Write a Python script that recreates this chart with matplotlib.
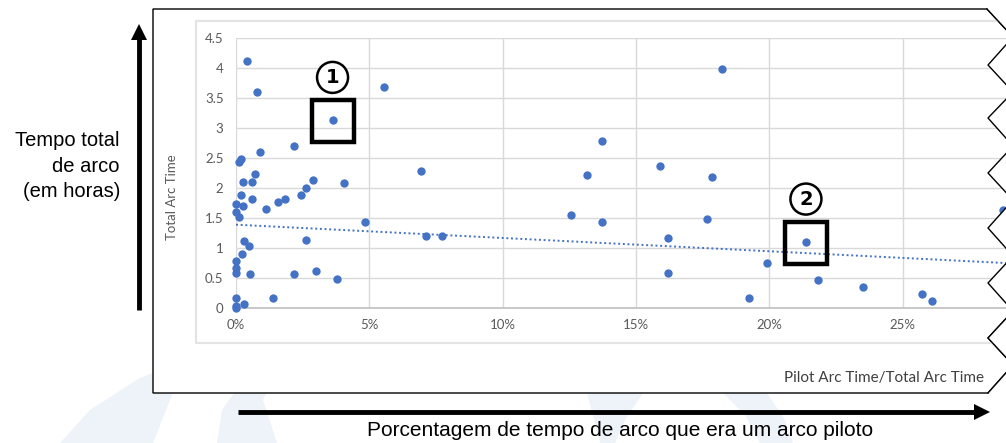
import numpy as np
import matplotlib
matplotlib.use("Agg")
import matplotlib.pyplot as plt
from matplotlib.patches import Polygon, Rectangle, Circle
from matplotlib.ticker import FuncFormatter

# dados (percentagem de arco piloto, tempo total em horas)
pilot_share = [0.40, 0.78, 3.62, 5.56, 2.18, 0.89, 0.18, 0.10, 0.70, 0.25,
               0.59, 2.89, 4.04, 6.94, 2.62, 0.18, 2.44, 0.59, 1.83, 1.59,
               0.00, 0.26, 1.11, 0.00, 0.11, 4.85, 7.11, 7.71, 12.57, 13.17,
               13.72, 13.72, 0.30, 0.47, 2.62, 0.21, 0.00, 0.00, 0.00, 0.51,
               2.18, 3.00, 3.79, 1.37, 0.00, 0.30, 0.00, 0.00, 15.91, 17.85,
               17.66, 18.22, 16.21, 16.21, 19.90, 21.37, 21.81, 19.22, 23.52, 25.71,
               26.08, 28.77]
arc_time = [4.12, 3.60, 3.13, 3.69, 2.70, 2.61, 2.49, 2.44, 2.24, 2.11,
            2.11, 2.14, 2.09, 2.29, 2.01, 1.89, 1.89, 1.82, 1.82, 1.77,
            1.73, 1.71, 1.66, 1.60, 1.52, 1.43, 1.20, 1.20, 1.56, 2.22,
            2.78, 1.44, 1.12, 1.03, 1.13, 0.90, 0.79, 0.67, 0.58, 0.57,
            0.57, 0.62, 0.49, 0.16, 0.16, 0.06, 0.04, 0.00, 2.37, 2.19,
            1.49, 3.99, 1.16, 0.58, 0.75, 1.10, 0.47, 0.16, 0.35, 0.24,
            0.12, 1.63]
# linha de tendencia do Excel: valor em 0% e em 28.9%
trend_x = [0.0, 28.87]
trend_y = [1.39, 0.75]
highlight_idx = [2, 55]
highlight_labels = ["1", "2"]
y_ticks = [0, 0.5, 1, 1.5, 2, 2.5, 3, 3.5, 4, 4.5]
x_ticks = [0, 5, 10, 15, 20, 25]

W, H = 1006, 443
BLUE = "#4472C4"
GRID = "#d9d9d9"
TXT = "#595959"
PALE = "#eef2f9"
XL_FONT = ["Lato", "DejaVu Sans"]
OUT_FONT = ["Liberation Sans", "DejaVu Sans"]

x = np.array(pilot_share) / 100
y = np.array(arc_time)

fig = plt.figure(figsize=(W / 100, H / 100), dpi=100)

# camada de fundo em pixels
bg = fig.add_axes([0, 0, 1, 1], zorder=0)
bg.set_xlim(0, W)
bg.set_ylim(H, 0)
bg.axis("off")

# manchas claras do fundo
bg.add_patch(Polygon([(60, 443), (90, 410), (140, 378), (185, 360), (170, 400), (153, 443)],
                     closed=True, fc=PALE, ec="none"))
bg.add_patch(Polygon([(217, 443), (222, 410), (240, 385), (280, 365), (263, 400), (277, 443)],
                     closed=True, fc=PALE, ec="none"))
bg.add_patch(Polygon([(587, 393), (643, 393), (625, 420), (615, 443), (600, 443)],
                     closed=True, fc=PALE, ec="none"))
bg.add_patch(Polygon([(723, 393), (767, 393), (785, 420), (793, 443), (760, 443), (745, 415)],
                     closed=True, fc=PALE, ec="none"))

zig = [(987, 9), (1013, 37), (988, 65), (1013, 92), (988, 118), (1013, 146),
       (988, 173), (1013, 200), (988, 228), (1013, 256), (988, 283), (1013, 311),
       (988, 338), (1013, 365), (988, 393)]
frame = [(153, 393), (153, 9)] + zig
bg.add_patch(Polygon(frame, closed=True, fc="white", ec="black", lw=1.0))

# borda da area do grafico (Excel)
bg.plot([1010, 196, 196, 1010], [21, 21, 343, 343], color="#e3e3e3", lw=1.5)

bg.text(984, 378, "Pilot Arc Time/Total Arc Time", ha="right", va="center",
        fontsize=11, color="#404040", family=XL_FONT)
bg.text(172, 197, "Total Arc Time", rotation=90, ha="center", va="center",
        fontsize=9.5, color=TXT, family=XL_FONT)

bg.text(120, 166, "Tempo total\nde arco\n(em horas)", ha="right", va="center",
        fontsize=14.5, family=OUT_FONT, linespacing=1.45)
bg.text(620, 430, "Porcentagem de tempo de arco que era um arco piloto", ha="center",
        va="center", fontsize=15, family=OUT_FONT)

# grafico de dispersao
left, right, top, bottom = 236, 1006, 38.3, 308
ax = fig.add_axes([left / W, 1 - bottom / H, (right - left) / W, (bottom - top) / H], zorder=1)
ax.set_facecolor("white")
xmax = (right - left) / 2667.0
ax.set_xlim(0, xmax)
ax.set_ylim(0, 4.5)
ax.scatter(x, y, s=36, color=BLUE, zorder=3, clip_on=False, linewidths=0)
ax.plot(np.array(trend_x) / 100, trend_y, color=BLUE, lw=1.4, ls=(0, (1, 1.4)), zorder=2)

ax.set_yticks(y_ticks)
ax.set_yticklabels(["%g" % v for v in y_ticks])
ax.set_xticks([v / 100 for v in x_ticks])
ax.xaxis.set_major_formatter(FuncFormatter(lambda v, p: "%d%%" % round(v * 100)))
ax.grid(True, color=GRID, lw=1)
ax.set_axisbelow(True)
for s in ["top", "right", "left"]:
    ax.spines[s].set_visible(False)
ax.spines["bottom"].set_color("#bfbfbf")
ax.spines["bottom"].set_linewidth(1.2)
ax.tick_params(length=0, labelsize=9.5, labelcolor=TXT)
ax.tick_params(axis="y", pad=9)
ax.tick_params(axis="x", pad=8)
for lab in ax.get_xticklabels() + ax.get_yticklabels():
    lab.set_family(XL_FONT)

# camada de cima: recorte em zigue-zague, setas e marcacoes
fg = fig.add_axes([0, 0, 1, 1], zorder=2)
fg.set_xlim(0, W)
fg.set_ylim(H, 0)
fg.axis("off")
fg.patch.set_alpha(0)
fg.add_patch(Polygon(zig + [(1040, 393), (1040, 9)], closed=True, fc="white", ec="none"))
fg.plot([p[0] for p in zig], [p[1] for p in zig], color="black", lw=1.0)

# setas
fg.plot([139, 139], [310, 38], color="black", lw=3.5, solid_capstyle="butt")
fg.add_patch(Polygon([(131, 40), (147, 40), (139, 24)], closed=True, fc="black", ec="none"))
fg.plot([238, 976], [412, 412], color="black", lw=3.5, solid_capstyle="butt")
fg.add_patch(Polygon([(974, 404), (974, 420), (990, 412)], closed=True, fc="black", ec="none"))

# caixas em volta dos pontos destacados
fig.canvas.draw()
for i, lab in zip(highlight_idx, highlight_labels):
    px, py = ax.transData.transform((x[i], y[i]))
    py = H - py
    fg.add_patch(Rectangle((px - 21, py - 20), 42, 42, fc="none", ec="black", lw=3.2))
    fg.add_patch(Circle((px, py - 43), 15.5, fc="white", ec="black", lw=1.8))
    fg.text(px, py - 43, lab, ha="center", va="center", fontsize=14,
            fontweight="bold", family=["Liberation Sans Narrow", "DejaVu Sans"])

fig.savefig("out.png", dpi=100)
